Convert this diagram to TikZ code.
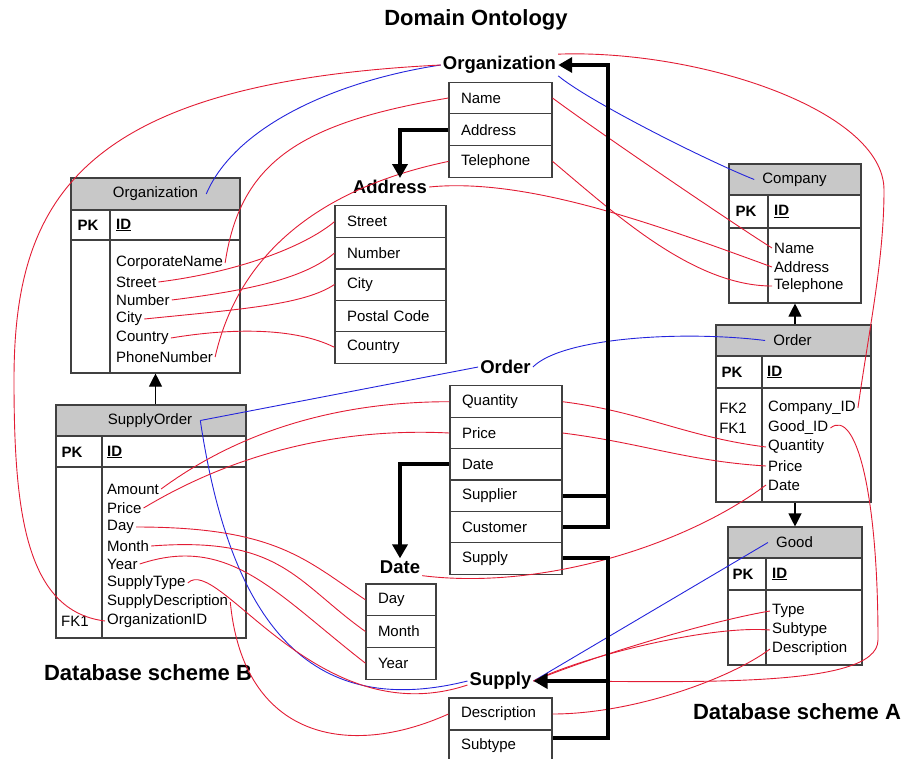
\documentclass[tikz,border=0pt]{standalone}
\usepackage{fontspec}
\setmainfont{Liberation Sans}
\usetikzlibrary{arrows.meta}
\definecolor{tblgray}{RGB}{64,64,64}
\definecolor{hdrgray}{RGB}{200,200,200}
\definecolor{mapred}{RGB}{226,28,52}
\definecolor{mapblue}{RGB}{36,36,220}
\tikzset{
  tbl/.style={draw=tblgray, line width=1.1pt},
  hdr/.style={tbl, fill=hdrgray},
  htxt/.style={inner xsep=8pt, font=\fontsize{15}{15}\selectfont},
  fld/.style={anchor=west, inner xsep=2pt, inner ysep=1pt, font=\fontsize{15}{15}\selectfont},
  fk/.style={inner sep=1pt, font=\fontsize{15}{15}\selectfont},
  pkey/.style={inner sep=1pt, font=\fontsize{15}{15}\selectfont\bfseries},
  orow/.style={tbl, minimum height=31.7pt, inner xsep=12pt, text width=#1, align=left, font=\fontsize{15}{15}\selectfont},
  concept/.style={inner sep=2pt, font=\fontsize{18.5}{18.5}\selectfont\bfseries},
  schemettl/.style={inner sep=0pt, font=\fontsize{22}{22}\selectfont\bfseries},
  map/.style={mapred, line width=0.9pt},
  cmap/.style={mapblue, line width=0.9pt},
  refline/.style={line width=4pt, -{Triangle[length=14pt,width=15pt]}},
  isa/.style={line width=1.1pt, -{Triangle[length=13pt,width=13pt]}},
}
\begin{document}
\begin{tikzpicture}[x=1pt, y=-1pt]
\clip (0,0) rectangle (905,758);

\node[schemettl] (tOnto) at (476,20) {Domain Ontology};
\node[schemettl] (tSchB) at (148,673) {Database scheme B};
\node[schemettl] (tSchA) at (797,712) {Database scheme A};

% domain ontology
\node[concept] (oOrgL) at (499.5,65) {Organization};
\node[orow=79pt] (oName) at (500.5,98) {Name};
\node[orow=79pt] (oAddr) at (500.5,129.7) {Address};
\node[orow=79pt] (oTel) at (500.5,161.4) {Telephone};

\node[concept] (oAddrL) at (390,187) {Address};
\node[orow=87pt] (oStreet) at (390.5,221.7) {Street};
\node[orow=87pt] (oNumber) at (390.5,253.1) {Number};
\node[orow=87pt] (oCity) at (390.5,284.5) {City};
\node[orow=87pt] (oPostal) at (390.5,315.9) {Postal Code};
\node[orow=87pt] (oCountry) at (390.5,347.3) {Country};

\node[concept] (oOrdL) at (505.5,367) {Order};
\node[orow=88pt] (oQty) at (506,401.7) {Quantity};
\node[orow=88pt] (oPrice) at (506,433) {Price};
\node[orow=88pt] (oDate) at (506,464.3) {Date};
\node[orow=88pt] (oSupplier) at (506,495.7) {Supplier};
\node[orow=88pt] (oCust) at (506,527) {Customer};
\node[orow=88pt] (oSupply) at (506,558.3) {Supply};

\node[concept] (oDateL) at (400,567) {Date};
\node[orow=46pt] (oDay) at (401,599.8) {Day};
\node[orow=46pt] (oMonth) at (401,631.5) {Month};
\node[orow=46pt] (oYear) at (401,663.2) {Year};

\node[concept] (oSupL) at (500.5,681) {Supply};
\node[orow=79pt, minimum height=32pt] (oDesc) at (500.5,714) {Description};
\node[orow=79pt, minimum height=32pt] (oSubtype) at (500.5,746) {Subtype};

% database scheme B
\node[tbl, minimum width=169pt, minimum height=195pt] (bOrg) at (155.5,275.5) {};
\node[hdr, minimum width=169pt, minimum height=32pt] (bOrgH) at (155.5,194) {};
\node[tbl, minimum width=169pt, minimum height=30pt] (bOrgK) at (155.5,225) {};
\draw[tbl] (110,210) -- (110,373);
\node[htxt] (bOrgT) at (155.5,194) {Organization};
\node[pkey] (bOrgPK) at (88,225) {PK};
\node[pkey, anchor=west] (bOrgID) at (115,225) {\underline{ID}};
\node[fld] (bCorp) at (114,263) {CorporateName};
\node[fld] (bStreet) at (114,282) {Street};
\node[fld] (bNumber) at (114,300) {Number};
\node[fld] (bCity) at (114,319) {City};
\node[fld] (bCountry) at (114,338) {Country};
\node[fld] (bPhone) at (114,357) {PhoneNumber};

\node[tbl, minimum width=190pt, minimum height=233pt] (bSup) at (151,521.5) {};
\node[hdr, minimum width=190pt, minimum height=31pt] (bSupH) at (151,420.5) {};
\node[tbl, minimum width=190pt, minimum height=31pt] (bSupK) at (151,451.5) {};
\draw[tbl] (102,436) -- (102,638);
\node[htxt] (bSupT) at (150,420.5) {SupplyOrder};
\node[pkey] (bSupPK) at (72,452) {PK};
\node[pkey, anchor=west] (bSupID) at (106,452) {\underline{ID}};
\node[fld] (bAmount) at (105,489) {Amount};
\node[fld] (bPrice) at (105,508) {Price};
\node[fld] (bDay) at (105,527) {Day};
\node[fld] (bMonth) at (105,546) {Month};
\node[fld] (bYear) at (105,564) {Year};
\node[fld] (bSType) at (105,583) {SupplyType};
\node[fld] (bSDesc) at (105,602) {SupplyDescription};
\node[fld] (bOrgRef) at (105,621) {OrganizationID};
\node[fk] (bFK1) at (75,621) {FK1};

% database scheme A
\node[tbl, minimum width=132pt, minimum height=139pt] (aCom) at (795,233.5) {};
\node[hdr, minimum width=132pt, minimum height=31pt] (aComH) at (795,179.5) {};
\node[tbl, minimum width=132pt, minimum height=33pt] (aComK) at (795,211.5) {};
\draw[tbl] (768,195) -- (768,303);
\node[htxt] (aComT) at (794.5,179.5) {Company};
\node[pkey] (aComPK) at (746,211.5) {PK};
\node[pkey, anchor=west] (aComID) at (773,211.5) {\underline{ID}};
\node[fld] (aName) at (772,248) {Name};
\node[fld] (aAddr) at (772,267) {Address};
\node[fld] (aTel) at (772,286) {Telephone};

\node[tbl, minimum width=155pt, minimum height=177pt] (aOrd) at (793.5,413.5) {};
\node[hdr, minimum width=155pt, minimum height=31pt] (aOrdH) at (793.5,340.5) {};
\node[tbl, minimum width=155pt, minimum height=32pt] (aOrdK) at (793.5,372) {};
\draw[tbl] (762,356) -- (762,502);
\node[htxt] (aOrdT) at (792.5,340.5) {Order};
\node[pkey] (aOrdPK) at (732,372) {PK};
\node[pkey, anchor=west] (aOrdID) at (766,372) {\underline{ID}};
\node[fk] (aFK2) at (733,408) {FK2};
\node[fk] (aFK1) at (733,428) {FK1};
\node[fld] (aCID) at (766,408) {Company\_ID};
\node[fld] (aGID) at (766,428) {Good\_ID};
\node[fld] (aQty) at (766,447) {Quantity};
\node[fld] (aPrice) at (766,466) {Price};
\node[fld] (aDate) at (766,485) {Date};

\node[tbl, minimum width=134pt, minimum height=138pt] (aGood) at (795,596) {};
\node[hdr, minimum width=134pt, minimum height=31pt] (aGoodH) at (795,542.5) {};
\node[tbl, minimum width=134pt, minimum height=32pt] (aGoodK) at (795,574) {};
\draw[tbl] (766,558) -- (766,665);
\node[htxt] (aGoodT) at (794.5,542.5) {Good};
\node[pkey] (aGoodPK) at (743,574) {PK};
\node[pkey, anchor=west] (aGoodID) at (771,574) {\underline{ID}};
\node[fld] (aType) at (770,611) {Type};
\node[fld] (aSubtype) at (770,630) {Subtype};
\node[fld] (aDesc) at (770,649) {Description};

\draw[isa] (bSup.north -| bOrg.south) -- (bOrg.south);
\draw[isa] (aOrd.north -| aCom.south) -- (aCom.south);
\draw[isa] (aOrd.south -| aGood.north) -- (aGood.north);

% concept mappings
\draw[cmap] (bOrgT.east) .. controls +(30,-70) and +(-100,15) .. (oOrgL.west);
\draw[cmap] (oOrgL.south east) .. controls +(30,25) and +(-50,-20) .. (aComT.west);
\draw[cmap] (oOrdL.east) .. controls +(30,-30) and +(-80,-10) .. (aOrdT.west);
\draw[cmap] (bSupT.east) -- (oOrdL.west);
\draw[cmap] (bSupT.east) .. controls +(30,200) and +(-160,40) .. (oSupL.west);
\draw[cmap] (oSupL.east) -- (aGoodT.west);

% attribute mappings
\draw[map] (bOrgRef.west) .. controls +(-80,-10) and +(0,130) .. (14,380) .. controls +(0,-180) and +(-362,18) .. (oOrgL.west);
\draw[map] (aCID.east) .. controls +(11,-78) and +(0,70) .. (884,190) .. controls +(0,-80) and +(140,-5) .. (oOrgL.north east);
\draw[map] (aGID.east) .. controls +(25,-20) and +(0,-150) .. (878,640) .. controls +(0,50) and +(150,0) .. (oSupL.east);
\draw[map] (bCorp.east) .. controls +(15,-100) and +(-150,25) .. (oName.west);
\draw[map] (bPhone.east) .. controls +(25,-110) and +(-120,25) .. (oTel.west);
\draw[map] (bStreet.east) .. controls +(80,-10) and +(-30,25) .. (oStreet.west);
\draw[map] (bNumber.east) .. controls +(80,-10) and +(-30,25) .. (oNumber.west);
\draw[map] (bCity.east) .. controls +(100,-10) and +(-30,20) .. (oCity.west);
\draw[map] (bCountry.east) .. controls +(60,-10) and +(-40,-20) .. (oCountry.west);
\draw[map] (oName.east) .. controls +(40,30) and +(-40,-25) .. (aName.west);
\draw[map] (oAddrL.east) .. controls +(100,-10) and +(-110,-40) .. (aAddr.west);
\draw[map] (oTel.east) .. controls +(60,50) and +(-80,0) .. (aTel.west);
\draw[map] (oQty.east) .. controls +(80,10) and +(-80,-10) .. (aQty.west);
\draw[map] (oPrice.east) .. controls +(80,10) and +(-80,-5) .. (aPrice.west);
\draw[map] (oDateL.south east) .. controls +(120,15) and +(-80,60) .. (aDate.west);
\draw[map] (aType.west) .. controls +(-60,10) and +(60,-25) .. (oSupL.east);
\draw[map] (aSubtype.west) .. controls +(-60,-5) and +(50,-25) .. (oSupL.east);
\draw[map] (aDesc.west) .. controls +(-40,30) and +(80,0) .. (oDesc.east);
\draw[map] (bAmount.east) .. controls +(87,-64) and +(-100,0) .. (oQty.west);
\draw[map] (bPrice.east) .. controls +(100,-60) and +(-100,-5) .. (oPrice.west);
\draw[map] (bDay.east) .. controls +(140,0) and +(-60,-40) .. (oDay.west);
\draw[map] (bMonth.east) .. controls +(130,-10) and +(-70,-50) .. (oMonth.west);
\draw[map] (bYear.east) .. controls +(90,-30) and +(-90,-70) .. (oYear.west);
\draw[map] (bSType.east) .. controls +(30,-30) and +(-150,50) .. ([yshift=-4pt]oSupL.west);
\draw[map] (bSDesc.east) .. controls +(13,137) and +(-100,45) .. (oDesc.west);

% ontology references
\draw[refline] (oCust.east) -- ++(45,0) |- (oOrgL.east);
\draw[line width=4pt] (oSupplier.east) -- ++(47,0);
\draw[refline] (oAddr.west) -| ([xshift=10pt]oAddrL.north);
\draw[refline] (oDate.west) -| (oDateL.north);
\draw[line width=4pt] (oSupply.east) -- ++(45,0) coordinate (busS) |- ([yshift=8pt]oSubtype.east);
\draw[refline] (busS |- oSupL.east) -- (oSupL.east);
\end{tikzpicture}
\end{document}
